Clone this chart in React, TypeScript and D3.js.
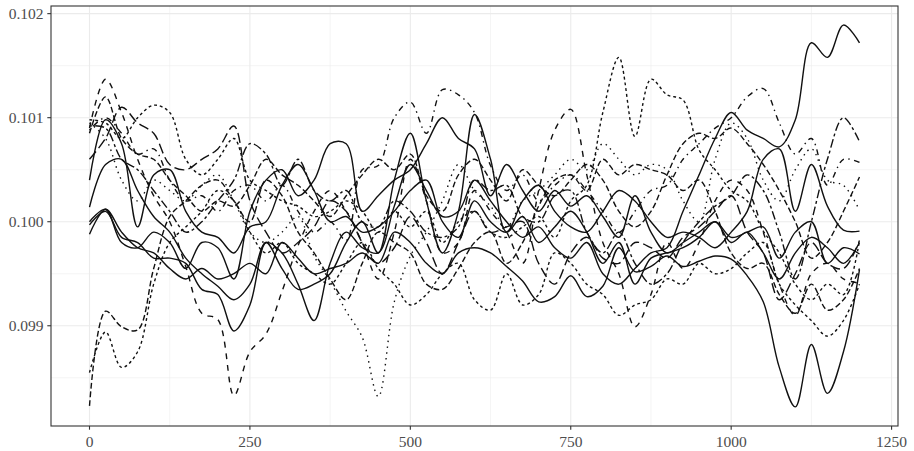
import React from "react";
import * as d3 from "d3";

// Sampling times shared by every series (0 … 1200, step 25)
const times: number[] = d3.range(0, 1201, 25);

const xTicks = [0, 250, 500, 750, 1000, 1250];
const xMinor = [125, 375, 625, 875, 1125];
const yTicks = [0.099, 0.1, 0.101, 0.102];
const yMinor = [0.0985, 0.0995, 0.1005, 0.1015];

const runA = [0.10014,0.10055,0.10060,0.10030,0.10005,0.09990,0.09965,0.09950,0.09938,0.09925,0.09940,0.09980,0.09970,0.09940,0.09905,0.09960,0.09990,0.09975,0.09970,0.10015,0.10055,0.10030,0.10005,0.10010,0.10040,0.10020,0.10000,0.09985,0.09995,0.09975,0.09965,0.09980,0.09950,0.09940,0.09955,0.09970,0.09975,0.10010,0.10045,0.10080,0.10105,0.10088,0.10080,0.10072,0.10098,0.10172,0.10158,0.10189,0.10172];
const runB = [0.09988,0.10012,0.09990,0.09975,0.09970,0.09955,0.09945,0.09955,0.09945,0.09950,0.09960,0.09950,0.09980,0.09965,0.09950,0.09955,0.09960,0.09970,0.09960,0.09990,0.09980,0.09960,0.09950,0.09970,0.09975,0.09970,0.09957,0.09943,0.09923,0.09928,0.09948,0.09928,0.09938,0.09975,0.09952,0.09957,0.09967,0.09957,0.09962,0.09967,0.09964,0.09948,0.09923,0.09860,0.09822,0.09882,0.09835,0.09875,0.09954];
const runC = [0.10000,0.10012,0.09980,0.09975,0.09990,0.09980,0.09955,0.09980,0.09975,0.09945,0.10010,0.10040,0.10050,0.10025,0.10040,0.10075,0.10075,0.10010,0.10025,0.10040,0.10050,0.10075,0.10100,0.10080,0.10070,0.10025,0.10055,0.10030,0.10010,0.10030,0.10015,0.10025,0.10005,0.09985,0.10025,0.09990,0.09970,0.09980,0.09990,0.10000,0.09985,0.09990,0.09995,0.09965,0.09990,0.10000,0.09960,0.09975,0.09969];
const runD = [0.10040,0.10098,0.10075,0.09995,0.10045,0.10050,0.10010,0.09990,0.09985,0.09970,0.09995,0.10000,0.10035,0.10055,0.10030,0.10000,0.10005,0.09990,0.09995,0.10010,0.10030,0.10040,0.10000,0.09985,0.10020,0.10000,0.09990,0.10020,0.10035,0.10010,0.09995,0.09990,0.10010,0.10030,0.10020,0.10000,0.09985,0.09990,0.09985,0.09975,0.09990,0.10010,0.10060,0.10070,0.10010,0.10055,0.10015,0.09992,0.09991];
const runE = [0.09997,0.10010,0.09985,0.09980,0.09965,0.09965,0.09960,0.09935,0.09930,0.09895,0.09920,0.09980,0.09955,0.09935,0.09940,0.09950,0.09980,0.10000,0.09970,0.10040,0.10085,0.10020,0.09970,0.10010,0.10103,0.10060,0.09990,0.10005,0.09980,0.09995,0.10010,0.09990,0.09960,0.09980,0.09940,0.09965,0.09970,0.09975,0.09985,0.10000,0.09980,0.09990,0.09970,0.09945,0.09970,0.09985,0.09975,0.09960,0.09980];
const runF = [0.10090,0.10137,0.10105,0.10060,0.10025,0.10000,0.09957,0.09912,0.09906,0.09833,0.09875,0.09892,0.09933,0.09977,0.10010,0.10030,0.10010,0.09980,0.09945,0.09990,0.10060,0.10020,0.09970,0.09980,0.10030,0.10010,0.09990,0.09960,0.10030,0.10088,0.10108,0.10045,0.09980,0.09950,0.09899,0.09930,0.09980,0.09955,0.09980,0.10020,0.10040,0.10030,0.09990,0.09940,0.09910,0.09950,0.09960,0.09945,0.09941];
const runG = [0.09823,0.09914,0.09899,0.09896,0.09955,0.10005,0.10020,0.10035,0.10040,0.10020,0.10000,0.10040,0.10025,0.09990,0.09970,0.09945,0.09925,0.09960,0.09990,0.09980,0.09970,0.09940,0.09935,0.09955,0.09980,0.09990,0.09960,0.09980,0.10015,0.10040,0.10045,0.10030,0.10060,0.10045,0.10055,0.10050,0.10045,0.10030,0.10040,0.10010,0.09970,0.09955,0.09960,0.09930,0.09912,0.09940,0.09915,0.09925,0.09955];
const runH = [0.09855,0.09894,0.09860,0.09875,0.09940,0.09980,0.09995,0.10010,0.10030,0.10020,0.09990,0.09970,0.09980,0.09960,0.09950,0.09940,0.09960,0.09980,0.09955,0.09940,0.09920,0.09930,0.09950,0.09960,0.09925,0.09915,0.09950,0.09920,0.09930,0.09970,0.09960,0.09940,0.09930,0.09910,0.09920,0.09925,0.09945,0.09940,0.09960,0.09950,0.09955,0.09970,0.09980,0.09940,0.09920,0.09905,0.09890,0.09905,0.09940];
const runI = [0.10095,0.10080,0.10040,0.10020,0.10040,0.10030,0.10020,0.10035,0.10045,0.10020,0.09990,0.09980,0.09990,0.10005,0.09967,0.09943,0.09914,0.09889,0.09832,0.09923,0.09967,0.09990,0.10020,0.10055,0.10030,0.10015,0.09995,0.10020,0.10030,0.10045,0.10060,0.10050,0.10075,0.10060,0.10045,0.10055,0.10050,0.10020,0.10000,0.10060,0.10095,0.10080,0.10040,0.10020,0.10050,0.10070,0.10040,0.10035,0.10011];
const runJ = [0.10088,0.10100,0.10085,0.10065,0.10070,0.10040,0.10020,0.10025,0.10010,0.10030,0.10035,0.10020,0.10035,0.10010,0.09990,0.10000,0.09982,0.10050,0.10054,0.10100,0.10115,0.10085,0.10127,0.10122,0.10105,0.10054,0.10030,0.10045,0.10020,0.10035,0.10045,0.10030,0.10010,0.09990,0.10010,0.10030,0.10035,0.10060,0.10075,0.10090,0.10100,0.10120,0.10128,0.10095,0.10065,0.10080,0.10035,0.10060,0.10057];
const runK = [0.10098,0.10095,0.10080,0.10100,0.10112,0.10105,0.10060,0.10045,0.10060,0.10080,0.10040,0.10030,0.10020,0.10015,0.10005,0.10010,0.10020,0.10010,0.09990,0.10010,0.09995,0.10010,0.09980,0.10000,0.10010,0.09990,0.09985,0.09995,0.10005,0.09985,0.10020,0.10035,0.10105,0.10158,0.10082,0.10137,0.10122,0.10117,0.10069,0.10050,0.10030,0.10020,0.09991,0.09970,0.09940,0.09925,0.09940,0.09930,0.09982];
const runL = [0.10092,0.10090,0.10060,0.10050,0.10030,0.10010,0.09990,0.10000,0.10020,0.10040,0.10075,0.10065,0.10035,0.10060,0.10030,0.10020,0.10030,0.10000,0.09995,0.10020,0.10010,0.09990,0.09985,0.09995,0.10040,0.10030,0.10035,0.10005,0.10000,0.10025,0.10030,0.09990,0.09970,0.09990,0.09960,0.09940,0.09950,0.09980,0.10000,0.10015,0.10025,0.10045,0.10030,0.09990,0.09945,0.10000,0.10060,0.10100,0.10077];
const runM = [0.10060,0.10080,0.10110,0.10095,0.10085,0.10055,0.10050,0.10060,0.10070,0.10092,0.10020,0.09990,0.09970,0.09980,0.09995,0.10020,0.10010,0.09980,0.09960,0.09975,0.10005,0.09980,0.09950,0.09980,0.10010,0.09990,0.09995,0.10000,0.09960,0.09940,0.09970,0.09985,0.09965,0.09960,0.09980,0.09975,0.09965,0.09985,0.09995,0.10010,0.10025,0.09990,0.09970,0.09925,0.09950,0.09980,0.09960,0.09955,0.09982];
const runN = [0.10085,0.10120,0.10080,0.10065,0.10060,0.10040,0.10025,0.10010,0.10020,0.10015,0.10035,0.10060,0.10045,0.10035,0.10020,0.10005,0.10025,0.10045,0.10060,0.10050,0.10065,0.10025,0.10010,0.10045,0.10060,0.10040,0.10020,0.10050,0.10035,0.10025,0.10040,0.10055,0.10040,0.10010,0.09995,0.10010,0.10045,0.10075,0.10085,0.10080,0.10090,0.10075,0.10055,0.10030,0.10000,0.09965,0.09980,0.10010,0.10043];

const seriesValues = [runA, runB, runC, runD, runE, runF, runG, runH, runI, runJ, runK, runL, runM, runN];
// R-style line type codes, one per series
const seriesTypes = ["solid", "solid", "solid", "solid", "solid", "44", "42", "22", "13", "1343", "22", "2262", "73", "42"];

const W = 914;
const H = 451;
const panel = { left: 51, right: 898, top: 6, bottom: 426 };
const dashUnit = 1.45;

function dashFor(code: string): string | undefined {
  if (code === "solid") return undefined;
  return code
    .split("")
    .map((c) => (parseInt(c, 16) * dashUnit).toFixed(2))
    .join(",");
}

export default function App() {
  const x = d3.scaleLinear().domain([-60, 1260]).range([panel.left, panel.right]);
  const all = seriesValues.flat();
  const lo = d3.min(all) as number;
  const hi = d3.max(all) as number;
  const pad = (hi - lo) * 0.05;
  const y = d3.scaleLinear().domain([lo - pad, hi + pad]).range([panel.bottom, panel.top]);

  const line = d3
    .line<number>()
    .x((_, i) => x(times[i]))
    .y((v) => y(v))
    .curve(d3.curveCatmullRom.alpha(0.5));

  const font = "'Liberation Serif', 'Times New Roman', serif";
  const grid = "#EBEBEB";
  const dark = "#333333";

  return (
    <svg width={W} height={H} style={{ position: "absolute", left: 0, top: 0, background: "#fff" }}>
      <rect x={0} y={0} width={W} height={H} fill="#fff" />
      <g>
        {xMinor.map((t) => (
          <line key={"xm" + t} x1={x(t)} x2={x(t)} y1={panel.top} y2={panel.bottom} stroke={grid} strokeWidth={0.55} />
        ))}
        {yMinor.map((v) => (
          <line key={"ym" + v} x1={panel.left} x2={panel.right} y1={y(v)} y2={y(v)} stroke={grid} strokeWidth={0.55} />
        ))}
        {xTicks.map((t) => (
          <line key={"xg" + t} x1={x(t)} x2={x(t)} y1={panel.top} y2={panel.bottom} stroke={grid} strokeWidth={1.1} />
        ))}
        {yTicks.map((v) => (
          <line key={"yg" + v} x1={panel.left} x2={panel.right} y1={y(v)} y2={y(v)} stroke={grid} strokeWidth={1.1} />
        ))}
      </g>
      <g fill="none" stroke="#111" strokeWidth={1.4} strokeLinejoin="round">
        {seriesValues.map((vals, i) => (
          <path key={i} d={line(vals) || ""} strokeDasharray={dashFor(seriesTypes[i])} />
        ))}
      </g>
      <rect
        x={panel.left}
        y={panel.top}
        width={panel.right - panel.left}
        height={panel.bottom - panel.top}
        fill="none"
        stroke={dark}
        strokeWidth={1.1}
      />
      <g>
        {xTicks.map((t) => (
          <g key={"xt" + t}>
            <line x1={x(t)} x2={x(t)} y1={panel.bottom} y2={panel.bottom + 3.7} stroke={dark} strokeWidth={1.1} />
            <text x={x(t)} y={447} textAnchor="middle" fontFamily={font} fontSize={15.5} fill="#4D4D4D">
              {String(t)}
            </text>
          </g>
        ))}
        {yTicks.map((v) => (
          <g key={"yt" + v}>
            <line x1={panel.left - 3.7} x2={panel.left} y1={y(v)} y2={y(v)} stroke={dark} strokeWidth={1.1} />
            <text x={43.5} y={y(v)} dy="0.35em" textAnchor="end" fontFamily={font} fontSize={15.5} fill="#4D4D4D">
              {v.toFixed(3)}
            </text>
          </g>
        ))}
      </g>
    </svg>
  );
}
